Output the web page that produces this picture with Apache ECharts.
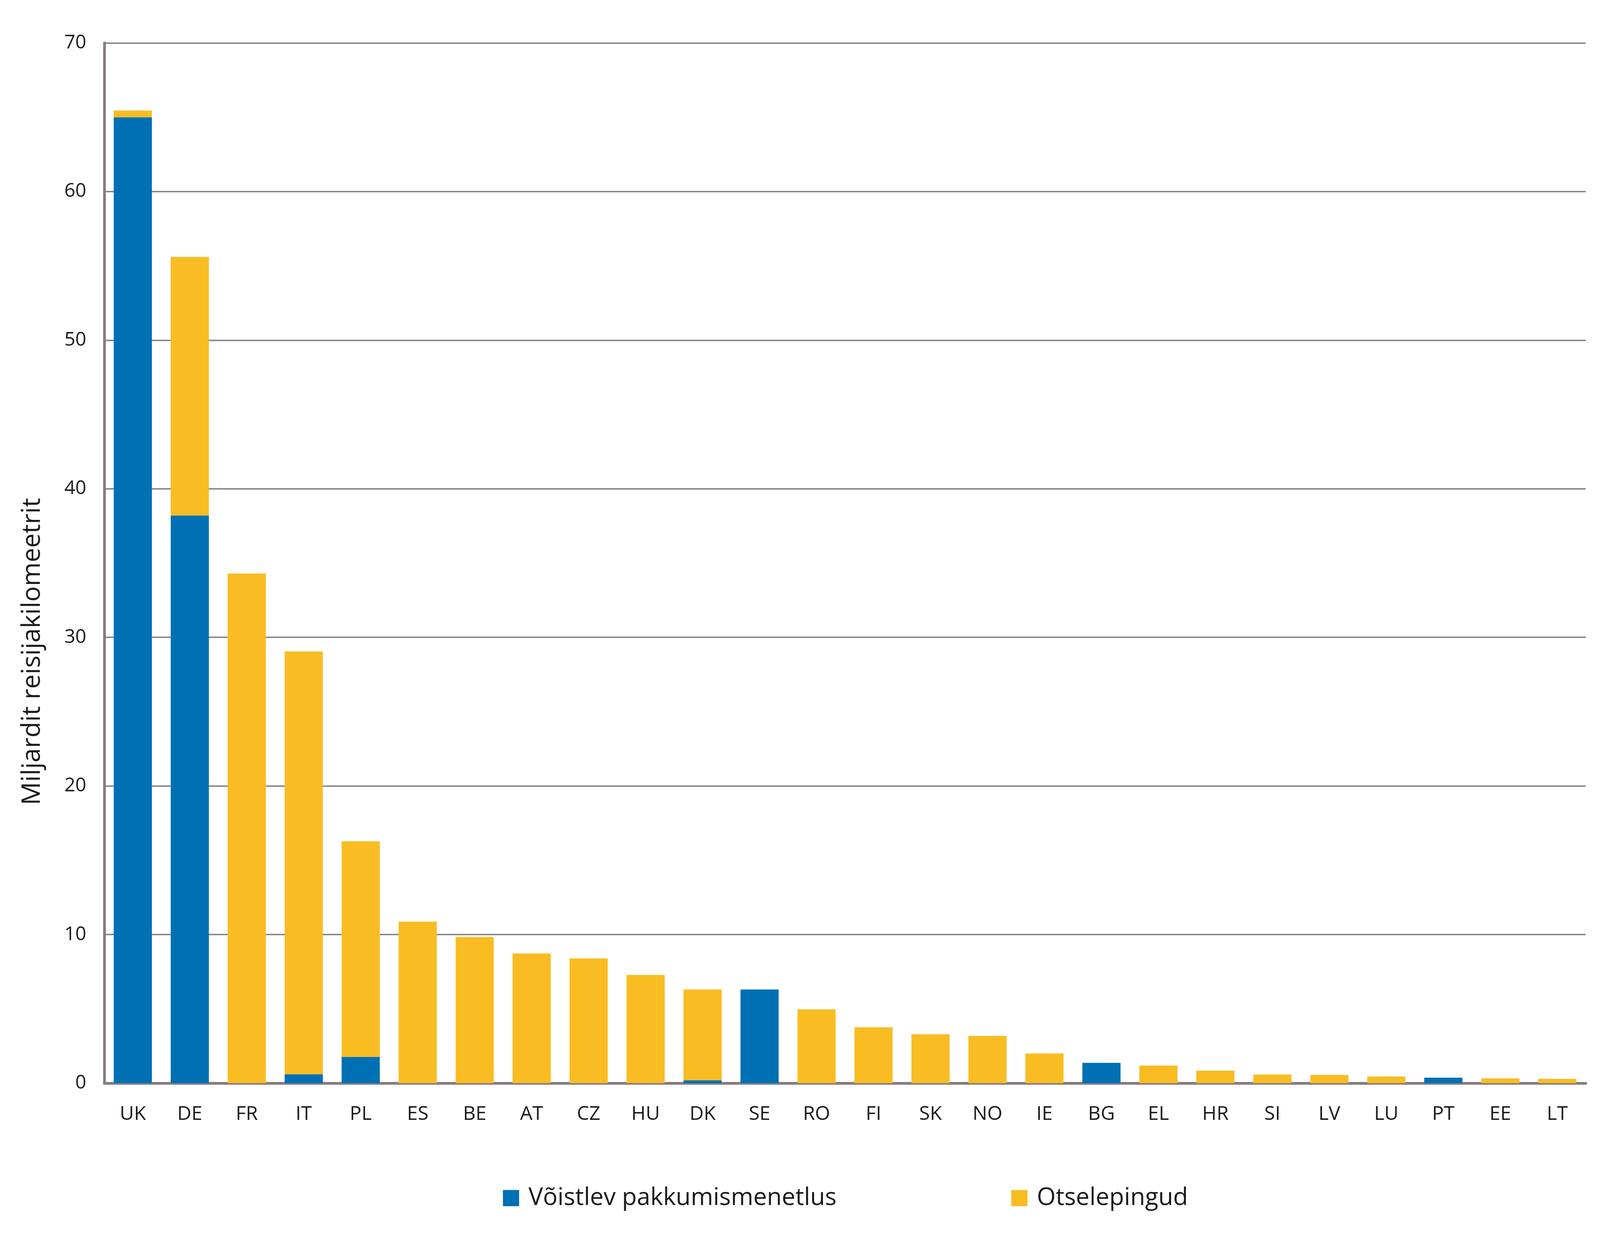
<!DOCTYPE html>
<html>
<head>
<meta charset="utf-8">
<script src="https://cdn.jsdelivr.net/npm/echarts@6/dist/echarts.min.js"></script>
<style>
  html, body { margin: 0; padding: 0; background: #fff; overflow: hidden; }
  #main { width: 100vw; height: 100vh; }
</style>
</head>
<body>
<div id="main"></div>
<script>
// riigid
var countries = ['UK', 'DE', 'FR', 'IT', 'PL', 'ES', 'BE', 'AT', 'CZ', 'HU', 'DK', 'SE', 'RO',
    'FI', 'SK', 'NO', 'IE', 'BG', 'EL', 'HR', 'SI', 'LV', 'LU', 'PT', 'EE', 'LT'];
// võistlev pakkumismenetlus
var tender = [65.0, 38.2, 0, 0.6, 1.77, 0, 0, 0, 0, 0, 0.2, 6.3, 0,
    0, 0, 0, 0, 1.37, 0, 0, 0, 0, 0, 0.37, 0, 0];
// otselepingud
var direct = [0.45, 17.4, 34.3, 28.45, 14.5, 10.87, 9.83, 8.73, 8.39, 7.28, 6.1, 0, 4.97,
    3.76, 3.29, 3.18, 2.0, 0, 1.18, 0.84, 0.58, 0.55, 0.45, 0, 0.32, 0.29];
var yTicks = { min: 0, max: 70, interval: 10 };

var axisColor = '#877c80';
var textColor = '#1a1a1a';
var font = 'Open Sans';

var el = document.getElementById('main');
// mõõdud on võetud 5506x3172 pildilt, skaleeritakse akna järgi
var sx = el.clientWidth / 5506;
var sy = el.clientHeight / 3172;
var s = Math.sqrt(sx * sy);

var myChart = echarts.init(el);

option = {
    backgroundColor: '#ffffff',
    animation: false,
    textStyle: { fontFamily: font, color: textColor },
    grid: { left: 359 * sx, right: 49 * sx, top: 110 * sy, bottom: 399 * sy, containLabel: false },
    legend: {
        left: 1724 * sx,
        top: 3070 * sy - 45 * s,
        icon: 'rect',
        itemWidth: 48 * s,
        itemHeight: 48 * s,
        itemGap: 1807 * sx - 1040 * s,
        textStyle: { fontFamily: font, fontSize: 72 * s, color: textColor, padding: [0, 0, 0, 22 * s] },
        data: ['Võistlev pakkumismenetlus', 'Otselepingud']
    },
    xAxis: {
        type: 'category',
        data: countries,
        axisLine: { show: true, lineStyle: { color: axisColor, width: 8 * s } },
        axisTick: { show: false },
        axisLabel: { fontFamily: font, fontSize: 58 * s, color: textColor, margin: 55 * sy }
    },
    yAxis: {
        type: 'value',
        min: yTicks.min,
        max: yTicks.max,
        interval: yTicks.interval,
        axisLine: { show: true, lineStyle: { color: axisColor, width: 8 * s } },
        axisTick: { show: false },
        axisLabel: { fontFamily: font, fontSize: 57 * s, color: textColor, margin: 62 * sx },
        splitLine: { show: true, lineStyle: { color: axisColor, width: 4 * s } }
    },
    graphic: [{
        type: 'text',
        x: 112 * sx,
        y: 1668 * sy,
        rotation: Math.PI / 2,
        style: {
            text: 'Miljardit reisijakilomeetrit',
            font: Math.round(76 * s) + 'px "Open Sans"',
            fill: textColor,
            textAlign: 'center',
            textVerticalAlign: 'middle'
        }
    }],
    series: [{
        name: 'Võistlev pakkumismenetlus',
        type: 'bar',
        stack: 'total',
        data: tender,
        barCategoryGap: '33%',
        itemStyle: { color: '#0070b4' }
    }, {
        name: 'Otselepingud',
        type: 'bar',
        stack: 'total',
        data: direct,
        barCategoryGap: '33%',
        itemStyle: { color: '#f9bc22' }
    }]
};

myChart.setOption(option);
</script>
</body>
</html>
